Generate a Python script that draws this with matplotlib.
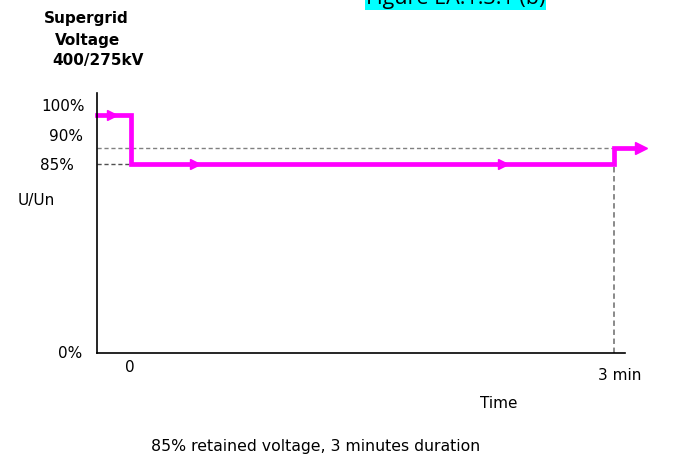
import numpy as np
import matplotlib
matplotlib.use("Agg")
import matplotlib.pyplot as plt
from matplotlib.transforms import blended_transform_factory

plt.rcParams['font.family'] = ['DejaVu Sans']

# ---- data (schematic voltage profile) ----
t_profile = [-0.21, 0.0, 0.0, 3.0, 3.0, 3.21]     # minutes
v_profile = [100, 100, 85, 85, 90, 90]            # % of Un
arrow_t = [-0.12, 0.40, 2.31]
arrow_v = [100, 85, 85]
ref_90 = 90
ref_85 = 85
end_time = 3.0
y_labels = ["100%", "90%", "85%", "U/Un", "0%"]
y_label_pos = [102.5, 93.3, 84.5, 68.5, -0.5]

W, H = 689, 462
fig = plt.figure(figsize=(W / 100, H / 100), dpi=100)
ax_left, ax_right, ax_top, ax_bot = 97, 648, 93, 353
ax = fig.add_axes([ax_left / W, 1 - ax_bot / H, (ax_right - ax_left) / W, (ax_bot - ax_top) / H])

# piecewise-linear schematic scale
vk = [0, 85, 110]
pk = [0, 189, 189 + 25 * 3.267]
fwd = lambda v: np.interp(v, vk, pk)
inv = lambda p: np.interp(p, pk, vk)
ax.set_yscale('function', functions=(fwd, inv))
ax.set_ylim(0, 106.7)
ax.set_xlim(-0.21, 3.21)

for s in ['top', 'right']:
    ax.spines[s].set_visible(False)
ax.spines['left'].set_linewidth(1.2)
ax.spines['bottom'].set_linewidth(1.2)
ax.spines['bottom'].set_bounds(-0.21, 3.07)
ax.set_xticks([])
ax.set_yticks([])
ax.yaxis.set_minor_locator(matplotlib.ticker.NullLocator())

grey = '#808080'
ax.plot([-0.21, end_time], [ref_90, ref_90], color=grey, ls=(0, (3, 2)), lw=1.0)
ax.plot([-0.21, 0], [ref_85, ref_85], color='#505050', ls=(0, (3, 2)), lw=1.0)
ax.plot([end_time, end_time], [0, ref_90], color=grey, ls=(0, (3, 2)), lw=1.3)

mag = '#FF00FF'
ax.plot(t_profile[:-1] + [3.16], v_profile, color=mag, lw=3.4, solid_joinstyle='miter', clip_on=False)
ax.plot(arrow_t, arrow_v, ls='none', marker='>', color=mag, ms=7, clip_on=False)
ax.plot([3.165], [v_profile[-1]], ls='none', marker='>', color=mag, ms=9, clip_on=False)

# y labels
tr = blended_transform_factory(fig.transFigure, ax.transData)
label_x = [85, 83, 74, 55, 82]
for lab, pos, xp in zip(y_labels, y_label_pos, label_x):
    ax.text(xp / W, pos, lab, transform=tr, ha='right', va='center', fontsize=11)

def px(x, y):
    return x / W, 1 - y / H

fig.text(*px(130, 367), "0", ha='center', va='center', fontsize=11)
fig.text(*px(620, 376), "3 min", ha='center', va='center', fontsize=11)
fig.text(*px(499, 403), "Time", ha='center', va='center', fontsize=11)
fig.text(*px(316, 446), "85% retained voltage, 3 minutes duration", ha='center', va='center', fontsize=11.3)

for txt, cx, cy in [("Supergrid", 86, 19), ("Voltage", 88, 40), ("400/275kV", 98, 61)]:
    fig.text(*px(cx, cy), txt, ha='center', va='center', fontsize=11, fontweight='bold')

fig.text(366 / W, 1 - 4 / H, "Figure EA.1.3.1 (b)", ha='left', va='baseline', fontsize=15.5,
         family=['Open Sans', 'DejaVu Sans'],
         bbox=dict(facecolor='#00FFFF', edgecolor='none', pad=0.5))

fig.savefig('out.png', dpi=100)
